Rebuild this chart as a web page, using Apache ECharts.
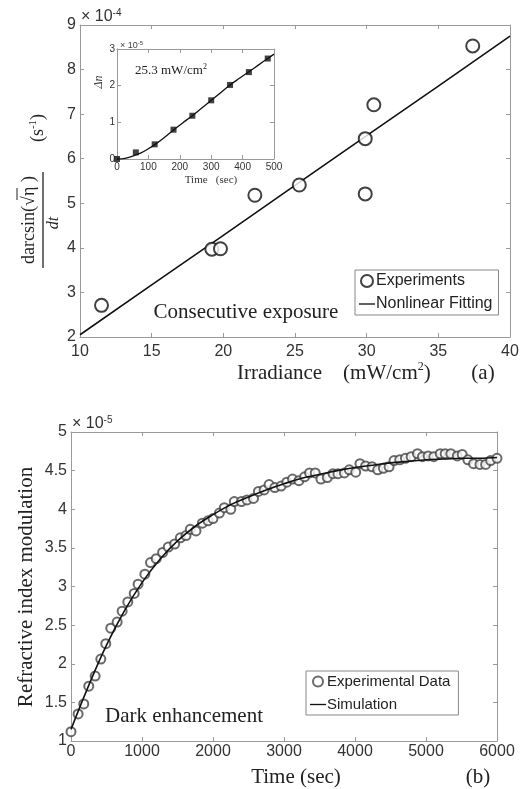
<!DOCTYPE html>
<html>
<head>
<meta charset="utf-8">
<script src="https://cdn.jsdelivr.net/npm/echarts@6/dist/echarts.min.js"></script>
<style>
html,body{margin:0;padding:0;background:#fff;}
#c{width:527px;height:789px;}
</style>
</head>
<body>
<div id="c"></div>
<script>
// ---- Panel (a): irradiance vs rate (units of 1e-4 s^-1)
const irrX = [11.5, 19.2, 19.8, 22.2, 25.3, 29.9, 29.9, 30.5, 37.4];
const rateY = [2.71, 3.97, 3.98, 5.18, 5.41, 6.45, 5.21, 7.21, 8.53];
const fitX = [10, 15, 20, 25, 30, 35, 40];
const fitY = [2.05, 3.17, 4.28, 5.40, 6.52, 7.63, 8.75];
const aXTicks = ['10', '15', '20', '25', '30', '35', '40'];
const aYTicks = ['2', '3', '4', '5', '6', '7', '8', '9'];

// ---- Inset: 25.3 mW/cm2, Δn (units of 1e-5) vs time
const insetT = [0, 60, 120, 180, 240, 300, 360, 420, 480];
const insetDn = [0, 0.18, 0.40, 0.80, 1.18, 1.60, 2.02, 2.37, 2.74];
const insetCurveT = [0, 25, 50, 75, 100, 125, 150, 180, 210, 240, 270, 300, 330, 360, 390, 420, 450, 480, 500];
const insetCurveDn = [0, 0.02, 0.08, 0.16, 0.28, 0.42, 0.58, 0.79, 0.99, 1.18, 1.39, 1.60, 1.81, 2.02, 2.20, 2.38, 2.56, 2.74, 2.86];

// ---- Panel (b): dark enhancement (units of 1e-5)
const darkT = [0, 100, 180, 250, 340, 420, 490, 560, 650, 720, 800, 890, 945, 1040, 1120, 1200, 1290, 1370, 1460, 1540,
  1620, 1680, 1760, 1850, 1930, 2000, 2090, 2160, 2250, 2300, 2400, 2480, 2570, 2640, 2720, 2790, 2870, 2960, 3040, 3120,
  3210, 3290, 3360, 3440, 3520, 3610, 3690, 3760, 3850, 3920, 4010, 4070, 4150, 4240, 4320, 4400, 4480, 4550, 4630, 4710,
  4790, 4880, 4950, 5030, 5110, 5200, 5270, 5350, 5440, 5510, 5590, 5670, 5760, 5840, 5910, 6000];
const darkN = [1.12, 1.35, 1.48, 1.71, 1.84, 2.06, 2.26, 2.46, 2.54, 2.68, 2.80, 2.91, 3.03, 3.16, 3.31, 3.36, 3.44, 3.51, 3.55, 3.63,
  3.66, 3.74, 3.72, 3.82, 3.85, 3.88, 3.95, 4.02, 4.00, 4.10, 4.10, 4.12, 4.14, 4.23, 4.25, 4.32, 4.28, 4.30, 4.35, 4.39,
  4.37, 4.42, 4.47, 4.47, 4.39, 4.41, 4.46, 4.46, 4.47, 4.51, 4.48, 4.59, 4.56, 4.55, 4.51, 4.53, 4.55, 4.63, 4.64, 4.66,
  4.68, 4.72, 4.68, 4.69, 4.68, 4.72, 4.72, 4.72, 4.69, 4.71, 4.64, 4.59, 4.58, 4.58, 4.63, 4.66];
const simT = [0, 250, 500, 750, 1000, 1250, 1500, 1750, 2000, 2250, 2500, 2750, 3000, 3250, 3500, 3750, 4000, 4250, 4500, 4750, 5000, 5250, 5500, 5750, 6000];
const simN = [1.15, 1.72, 2.24, 2.68, 3.05, 3.35, 3.59, 3.78, 3.93, 4.06, 4.16, 4.25, 4.33, 4.40, 4.45, 4.50, 4.54, 4.57, 4.60, 4.62, 4.64, 4.65, 4.66, 4.66, 4.67];
const bXTicks = ['0', '1000', '2000', '3000', '4000', '5000', '6000'];
const bYTicks = ['1', '1.5', '2', '2.5', '3', '3.5', '4', '4.5', '5'];

const zip = (a, b) => a.map((v, i) => [v, b[i]]);
const frame = '#9a9a9a';
const lblColor = '#333';
const lineIcon = 'path://M0,0 L24,0 L24,2 L0,2 Z';

function axis(type, gridIndex, position, min, max, interval, labels, fontSize, margin) {
  return {
    type: 'value', gridIndex, position, min, max, interval,
    axisLine: { show: true, onZero: false, lineStyle: { color: frame, width: 1 } },
    axisTick: { show: true, inside: true, length: 4, lineStyle: { color: frame } },
    splitLine: { show: false },
    axisLabel: labels ? {
      show: true, fontFamily: 'Liberation Sans, Arial, sans-serif', fontSize, color: lblColor, margin,
      formatter: v => { const s = labels.find(l => Math.abs(parseFloat(l) - v) < 1e-9); return s === undefined ? '' : s; }
    } : { show: false }
  };
}

const chart = echarts.init(document.getElementById('c'), null, { renderer: 'canvas' });
const serif = 'Liberation Serif, Times New Roman, serif';

const option = {
  animation: false,
  backgroundColor: '#fff',
  grid: [
    { left: 80, top: 25, width: 430, height: 312, show: false },
    { left: 117, top: 49, width: 157, height: 110, show: true, backgroundColor: '#fff', borderWidth: 0 },
    { left: 71, top: 432, width: 426, height: 309, show: false }
  ],
  xAxis: [
    axis('x', 0, 'bottom', 10, 40, 5, aXTicks, 16, 7),
    axis('x', 0, 'top', 10, 40, 5, null),
    axis('x', 1, 'bottom', 0, 500, 100, ['0', '100', '200', '300', '400', '500'], 10, 3),
    axis('x', 1, 'top', 0, 500, 100, null),
    axis('x', 2, 'bottom', 0, 6000, 1000, bXTicks, 16, 3),
    axis('x', 2, 'top', 0, 6000, 1000, null)
  ],
  yAxis: [
    axis('y', 0, 'left', 2, 9, 1, aYTicks, 16, 4),
    axis('y', 0, 'right', 2, 9, 1, null),
    axis('y', 1, 'left', 0, 3, 1, ['0', '1', '2', '3'], 10, 2),
    axis('y', 1, 'right', 0, 3, 1, null),
    axis('y', 2, 'left', 1, 5, 0.5, bYTicks, 16, 4),
    axis('y', 2, 'right', 1, 5, 0.5, null)
  ],
  legend: [
    {
      orient: 'vertical', left: 355, top: 270, width: 147,
      borderColor: '#888', borderWidth: 1, padding: [3, 6, 3, 4],
      itemWidth: 16, itemHeight: 12, itemGap: 7,
      textStyle: { fontFamily: 'Liberation Sans, Arial, sans-serif', fontSize: 16, color: '#222', padding: [0, 0, 0, -4] },
      data: [{ name: 'Experiments', icon: 'emptyCircle' }, { name: 'Nonlinear Fitting', icon: lineIcon }]
    },
    {
      orient: 'vertical', left: 306, top: 671,
      borderColor: '#888', borderWidth: 1, padding: [3, 8, 3, 4],
      itemWidth: 16, itemHeight: 10, itemGap: 8,
      textStyle: { fontFamily: 'Liberation Sans, Arial, sans-serif', fontSize: 15, color: '#222', padding: [0, 0, 0, -4] },
      data: [{ name: 'Experimental Data', icon: 'emptyCircle' }, { name: 'Simulation', icon: lineIcon }]
    }
  ],
  series: [
    {
      name: 'Nonlinear Fitting', type: 'line', xAxisIndex: 0, yAxisIndex: 0,
      data: zip(fitX, fitY), symbol: 'none', lineStyle: { color: '#111', width: 1.6 }, itemStyle: { color: '#111' }, z: 2
    },
    {
      name: 'Experiments', type: 'scatter', xAxisIndex: 0, yAxisIndex: 0,
      data: zip(irrX, rateY), symbol: 'emptyCircle', symbolSize: 13,
      itemStyle: { color: '#111', borderColor: '#111', borderWidth: 2.2 }, z: 3
    },
    {
      name: 'insetCurve', type: 'line', xAxisIndex: 2, yAxisIndex: 2,
      data: zip(insetCurveT, insetCurveDn), symbol: 'none', smooth: 0.3,
      lineStyle: { color: '#111', width: 1.3 }, z: 4
    },
    {
      name: 'insetPts', type: 'scatter', xAxisIndex: 2, yAxisIndex: 2,
      data: zip(insetT, insetDn), symbol: 'rect', symbolSize: 6,
      itemStyle: { color: '#111' }, z: 5
    },
    {
      name: 'Experimental Data', type: 'scatter', xAxisIndex: 4, yAxisIndex: 4,
      data: zip(darkT, darkN), symbol: 'emptyCircle', symbolSize: 9,
      itemStyle: { color: '#444', borderColor: '#444', borderWidth: 1.1 }, z: 3
    },
    {
      name: 'Simulation', type: 'line', xAxisIndex: 4, yAxisIndex: 4,
      data: zip(simT, simN), symbol: 'none', smooth: 0.4,
      lineStyle: { color: '#111', width: 1.6 }, itemStyle: { color: '#111' }, z: 4
    }
  ],
  graphic: [
    // exponent labels
    { type: 'text', left: 81, top: 8, style: { rich: { a: { fontFamily: 'Liberation Sans, Arial, sans-serif', fontSize: 16, fill: lblColor }, s: { fontFamily: 'Liberation Sans, Arial, sans-serif', fontSize: 10, fill: lblColor, padding: [0, 0, 8, 0] } }, text: '{a|× 10}{s|-4}' } },
    { type: 'text', left: 120, top: 40, style: { rich: { a: { fontFamily: 'Liberation Sans, Arial, sans-serif', fontSize: 9, fill: '#444' }, s: { fontFamily: 'Liberation Sans, Arial, sans-serif', fontSize: 6, fill: '#444', padding: [0, 0, 5, 0] } }, text: '{a|× 10}{s|-5}' } },
    { type: 'text', left: 72, top: 415, style: { rich: { a: { fontFamily: 'Liberation Sans, Arial, sans-serif', fontSize: 16, fill: lblColor }, s: { fontFamily: 'Liberation Sans, Arial, sans-serif', fontSize: 10, fill: lblColor, padding: [0, 0, 8, 0] } }, text: '{a|× 10}{s|-5}' } },
    // inset texts
    { type: 'text', left: 135, top: 63, style: { rich: { a: { fontFamily: serif, fontSize: 13, fill: '#222' }, s: { fontFamily: serif, fontSize: 8, fill: '#222', padding: [0, 0, 7, 0] } }, text: '{a|25.3 mW/cm}{s|2}' } },
    { type: 'text', x: 211, y: 180, style: { text: 'Time   (sec)', font: '11px ' + serif, fill: '#333', align: 'center', verticalAlign: 'middle' } },
    { type: 'text', x: 99, y: 82, rotation: Math.PI / 2, style: { text: 'Δn', font: 'italic 12px ' + serif, fill: '#333', align: 'center', verticalAlign: 'middle' } },
    // panel (a) annotations
    { type: 'text', x: 246, y: 312, style: { text: 'Consecutive exposure', font: '21px ' + serif, fill: '#222', align: 'center', verticalAlign: 'middle' } },
    { type: 'text', left: 237, top: 361, style: { rich: { a: { fontFamily: serif, fontSize: 21, fill: '#222' }, s: { fontFamily: serif, fontSize: 12, fill: '#222', padding: [0, 0, 12, 0] } }, text: '{a|Irradiance    (mW/cm}{s|2}{a|)}' } },
    { type: 'text', x: 483, y: 373, style: { text: '(a)', font: '21px ' + serif, fill: '#222', align: 'center', verticalAlign: 'middle' } },
    // panel (a) y label: fraction, rotated
    {
      type: 'group', x: 43, y: 220, rotation: Math.PI / 2,
      children: [
        { type: 'line', shape: { x1: -48, y1: 0, x2: 48, y2: 0 }, style: { stroke: '#222', lineWidth: 1.3 } },
        { type: 'text', x: 0, y: -14, style: { text: 'darcsin(√η )', font: '18px ' + serif, fill: '#222', align: 'center', verticalAlign: 'middle' } },
        { type: 'line', shape: { x1: 20, y1: -26, x2: 32, y2: -26 }, style: { stroke: '#222', lineWidth: 1 } },
        { type: 'text', x: -3, y: 11, style: { text: 'dt', font: 'italic 16px ' + serif, fill: '#222', align: 'center', verticalAlign: 'middle' } },
        { type: 'text', x: 92, y: -5, style: { rich: { a: { fontFamily: serif, fontSize: 18, fill: '#222' }, s: { fontFamily: serif, fontSize: 11, fill: '#222', padding: [0, 0, 9, 0] } }, text: '{a|(s}{s|-1}{a|)}', align: 'center', verticalAlign: 'middle' } }
      ]
    },
    // panel (b) annotations
    { type: 'text', x: 26, y: 587, rotation: Math.PI / 2, style: { text: 'Refractive index modulation', font: '21px ' + serif, fill: '#222', align: 'center', verticalAlign: 'middle' } },
    { type: 'text', x: 184, y: 716, style: { text: 'Dark enhancement', font: '21px ' + serif, fill: '#222', align: 'center', verticalAlign: 'middle' } },
    { type: 'text', x: 296, y: 777, style: { text: 'Time (sec)', font: '21px ' + serif, fill: '#222', align: 'center', verticalAlign: 'middle' } },
    { type: 'text', x: 478, y: 777, style: { text: '(b)', font: '21px ' + serif, fill: '#222', align: 'center', verticalAlign: 'middle' } }
  ]
};
chart.setOption(option);
</script>
</body>
</html>
